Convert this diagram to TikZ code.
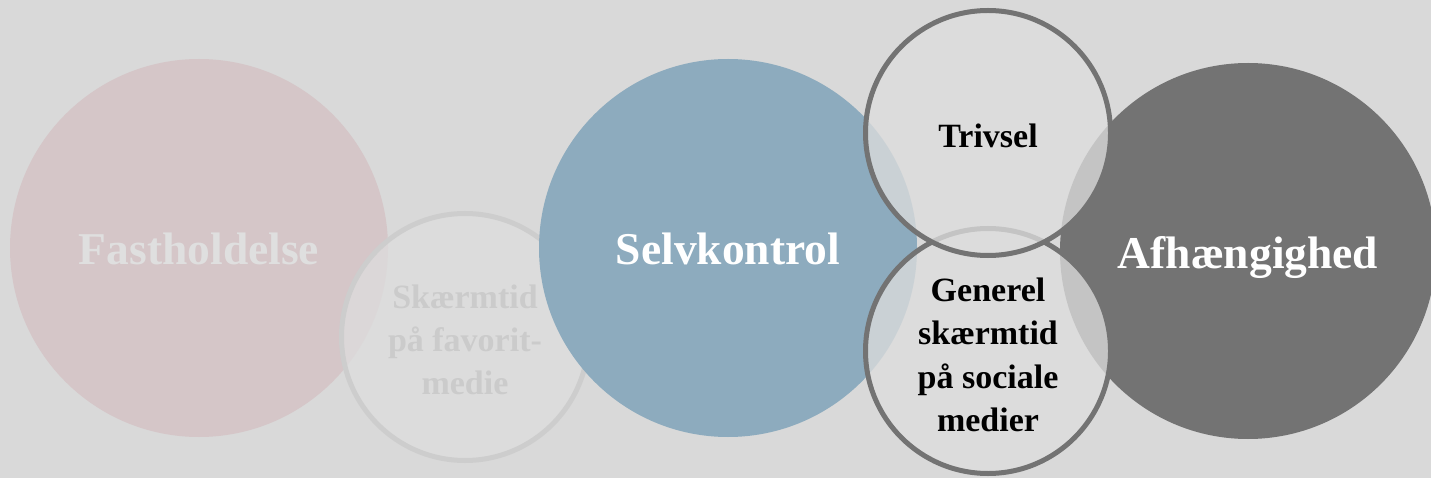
\documentclass[tikz,border=0pt]{standalone}
\usepackage{fontspec}
\setmainfont{Liberation Serif}
\definecolor{bgc}{HTML}{D9D9D9}
\definecolor{fastc}{HTML}{D5C6C8}
\definecolor{fasttxt}{HTML}{DFDFDF}
\definecolor{selvc}{HTML}{8DABBE}
\definecolor{darkc}{HTML}{737373}
\definecolor{lightring}{HTML}{CDCDCD}
\definecolor{veil}{HTML}{DDDDDD}
\definecolor{skaermtxt}{HTML}{CBCBCB}
\begin{document}
\begin{tikzpicture}[x=1pt,y=-1pt,
  bigcircle/.style={circle, inner sep=0pt, outer sep=0pt, minimum size=378pt},
  veilcircle/.style={circle, inner sep=0pt, outer sep=0pt, minimum size=245pt,
    fill=veil, fill opacity=0.77, line width=5pt},
  bigtext/.style={font=\fontsize{45.5}{54}\selectfont\bfseries, anchor=base, inner sep=0pt},
  smalltext/.style={font=\fontsize{34}{43.3}\selectfont\bfseries, align=center, inner sep=0pt}
]
\fill[bgc] (0,0) rectangle (1431,478);
\useasboundingbox (0,0) rectangle (1431,478);
\clip (0,0) rectangle (1431,478);

\node[bigcircle, fill=fastc] (fast) at (199,248) {};
\node[veilcircle, draw=lightring, minimum size=247pt] (skaerm) at (465,337) {};
\node[bigcircle, fill=selvc] (selv) at (728,248) {};
\node[bigcircle, fill=darkc, minimum size=376pt] (afh) at (1248,251) {};
\node[veilcircle, draw=darkc] (gen) at (988,351) {};
\node[veilcircle, draw=darkc] (triv) at (988,133) {};

\node[bigtext, text=fasttxt] (tfast) at (199,265) {Fastholdelse};
\node[bigtext, text=white] (tselv) at (728,265) {Selvkontrol};
\node[bigtext, text=white] (tafh) at (1248,269) {Afhængighed};
\node[smalltext, text=skaermtxt] (tskaerm) at (465,340) {Skærmtid\\på favorit-\\medie};
\node[smalltext, text=black, anchor=base] (ttriv) at (988,148) {Trivsel};
\node[smalltext, text=black] (tgen) at (988,355) {Generel\\skærmtid\\på sociale\\medier};
\end{tikzpicture}
\end{document}
